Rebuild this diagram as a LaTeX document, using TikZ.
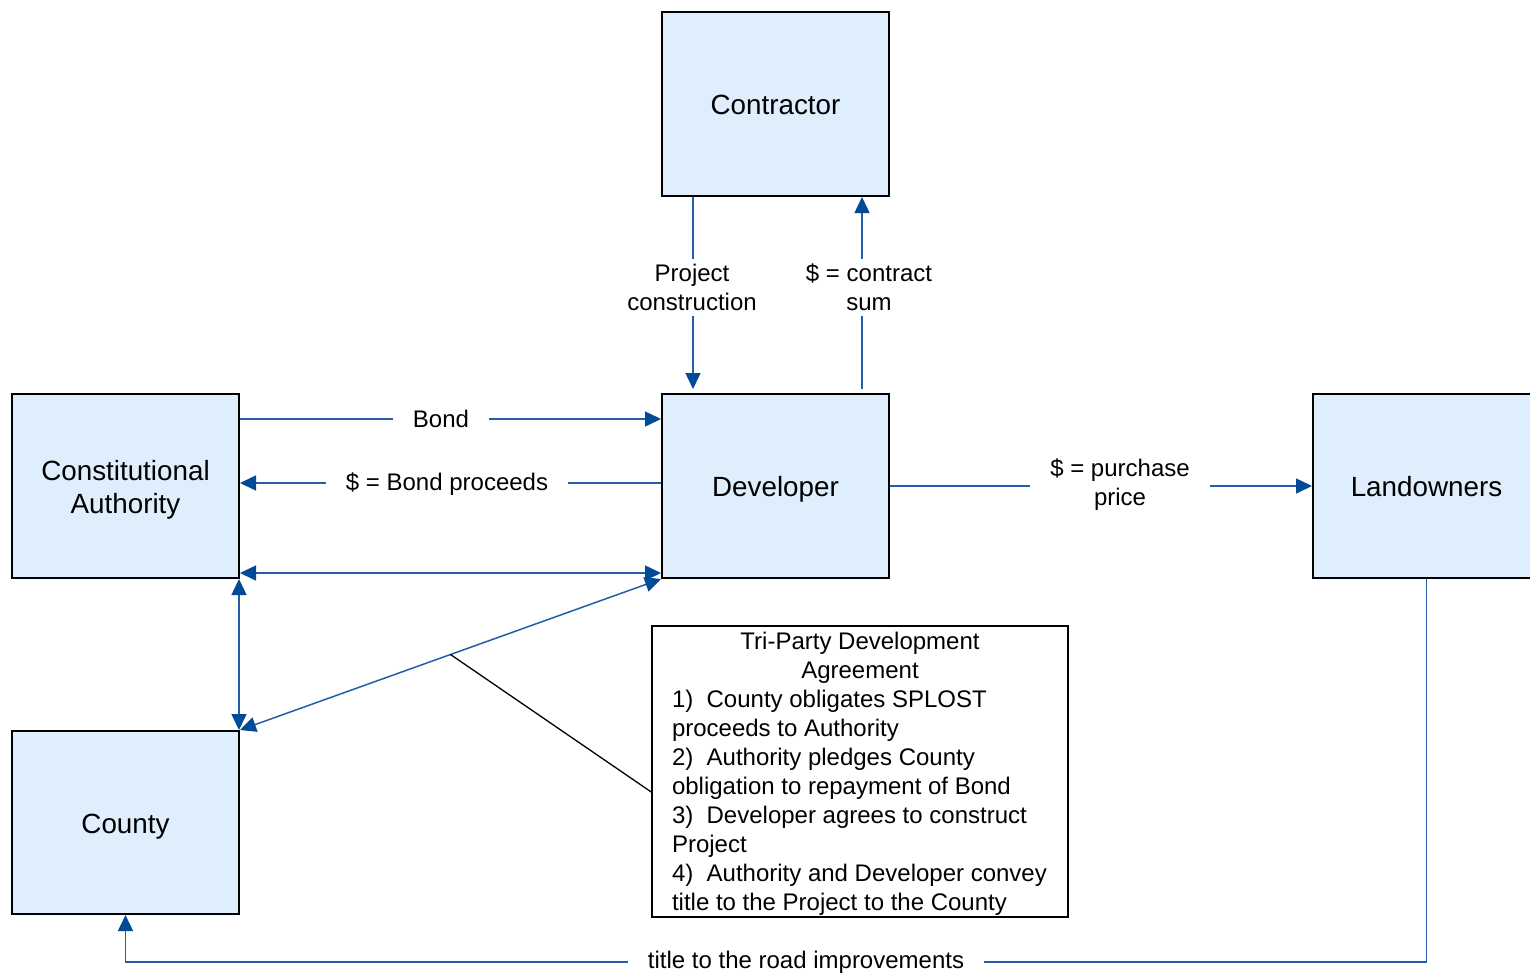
\documentclass[tikz,border=0pt]{standalone}
\usepackage{fontspec}
\setmainfont{Liberation Sans}
\usetikzlibrary{arrows.meta,calc}
\definecolor{boxfill}{RGB}{222,238,253}
\definecolor{linkblue}{RGB}{36,94,168}
\definecolor{tipblue}{RGB}{0,74,152}
\newcommand{\partytext}[1]{\raisebox{0pt}[\dimexpr\height+8pt\relax][\depth]{\begin{tabular}{@{}c@{}}#1\end{tabular}}}
\tikzset{
  party/.style={draw=black,line width=2pt,fill=boxfill,minimum width=227pt,minimum height=184pt,inner sep=0pt,align=center,font=\fontsize{27.8}{33}\selectfont},
  link/.style={draw=linkblue,line width=1.5pt},
  arr/.style={link,-{Triangle[length=16pt,width=15pt,color=tipblue]}},
  darr/.style={link,{Triangle[length=16pt,width=15pt,color=tipblue]}-{Triangle[length=16pt,width=15pt,color=tipblue]}},
  lbl/.style={fill=white,inner xsep=20pt,inner ysep=5pt,align=center,font=\fontsize{24}{29}\selectfont},
  note/.style={draw=black,line width=1.5pt,fill=white,minimum width=416pt,minimum height=291pt,inner xsep=20pt,inner ysep=0pt,align=left,font=\fontsize{24}{29}\selectfont}
}
\begin{document}
\begin{tikzpicture}[x=1pt,y=-1pt]
\useasboundingbox (0,0) rectangle (1530,972);
\node[party] (contractor) at (775.5,104) {\partytext{Contractor}};
\node[party] (auth) at (125.5,486) {\partytext{Constitutional\\Authority}};
\node[party] (dev) at (775.5,486) {\partytext{Developer}};
\node[party] (land) at (1426.5,486) {\partytext{Landowners}};
\node[party,minimum height=183pt] (county) at (125.5,822.5) {\partytext{County}};
\node[note] (tpa) at (860,771.5) {\rule{0pt}{21.5pt}\makebox[376pt][c]{Tri-Party Development}\\\makebox[376pt][c]{Agreement}\\1)\ \ County obligates SPLOST\\proceeds to Authority\\2)\ \ Authority pledges County\\obligation to repayment of Bond\\3)\ \ Developer agrees to construct\\Project\\4)\ \ Authority and Developer convey\\title to the Project to the County};

% Contractor <-> Developer
\coordinate (pcTop) at (contractor.south -| 693,0);
\coordinate (pcBot) at ([yshift=4pt]dev.north -| 693,0);
\draw[arr] (pcTop) -- (pcBot);
\coordinate (csBot) at ([yshift=4pt]dev.north -| 862,0);
\coordinate (csTop) at (contractor.south -| 862,0);
\draw[arr] (csBot) -- (csTop);
\node[lbl] (pclbl) at (692,287.5) {Project\\construction};
\node[lbl] (cslbl) at (869,287.5) {\$ = contract\\sum};

% Authority <-> Developer
\draw[arr] ([yshift=-26pt]auth.north east) -- ([yshift=-26pt]dev.north west);
\node[lbl] (bondlbl) at (441,419) {Bond};
\draw[arr] ([yshift=3pt]dev.west) -- ([yshift=3pt]auth.east);
\node[lbl] (proclbl) at (447,484) {\$ = Bond proceeds};
\draw[darr] ([yshift=6pt]auth.south east) -- ([yshift=6pt]dev.south west);

% Authority <-> County
\draw[darr] ([xshift=-1pt]auth.south east) -- ([xshift=-1pt]county.north east);
% Developer <-> County
\draw[darr] (dev.south west) -- coordinate[pos=0.5] (mid) (county.north east);
\draw[black,line width=1.3pt] (mid) -- ([yshift=-20.5pt]tpa.west);

% Developer -> Landowners
\draw[arr] (dev.east) -- (land.west);
\node[lbl] (purlbl) at (1120,484.5) {\$ = purchase\\price};

% Landowners -> County
\coordinate (corner) at (land.south |- 0,962);
\draw[arr] (land.south) -- (corner) -| (county.south);
\node[lbl] (titlelbl) at (806,962) {title to the road improvements};
\end{tikzpicture}
\end{document}
